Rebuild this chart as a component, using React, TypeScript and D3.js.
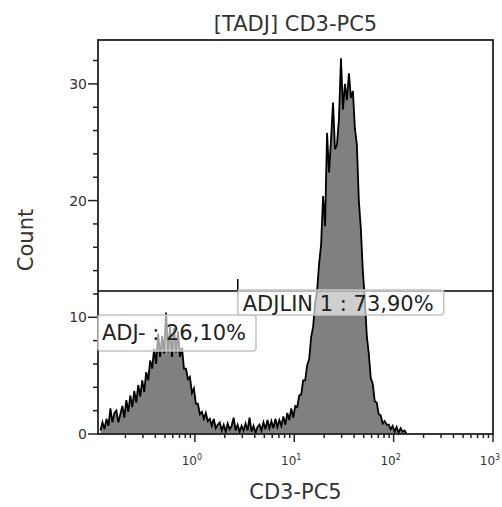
import React from 'react';
import * as d3 from 'd3';

const W = 502;
const H = 507;
const plot = { left: 98, top: 40, right: 493, bottom: 434 };

// histogram channels (log10 of the first channel's lower edge, channel width in decades)
const channelStart = -0.96;
const channelStep = 0.02;
const counts = [
  0.3, 1.0, 0.4, 1.3, 0.7, 2.2, 1.0, 1.8, 2.0, 1.0,
  1.7, 2.4, 1.4, 2.9, 1.9, 3.3, 2.3, 3.7, 2.7, 4.2,
  3.2, 4.6, 3.6, 5.3, 4.6, 6.3, 5.6, 7.3, 6.0, 8.6,
  6.6, 8.4, 6.9, 10.4, 7.0, 9.2, 6.6, 9.1, 7.0, 8.8,
  6.6, 7.4, 5.6, 5.6, 4.7, 4.9, 3.5, 3.9, 2.6, 2.6,
  1.7, 1.9, 1.3, 1.8, 1.1, 1.3, 0.7, 1.3, 0.5, 0.8,
  1.0, 0.3, 0.8, 0.2, 0.9, 0.4, 0.7, 1.4, 0.3, 0.8,
  0.2, 0.7, 0.3, 0.9, 0.3, 1.4, 0.2, 0.7, 0.1, 0.6,
  0.8, 0.3, 1.0, 0.4, 1.2, 0.5, 1.1, 0.5, 1.3, 0.6,
  1.2, 0.7, 1.5, 0.8, 1.8, 1.2, 2.2, 1.4, 2.4, 2.3,
  3.3, 3.4, 4.6, 4.6, 5.9, 6.4, 8.3, 9.2, 11.2, 12.3,
  14.6, 16.2, 20.4, 17.8, 25.8, 22.4, 25.2, 28.4, 24.4, 24.8,
  27.0, 32.2, 27.8, 30.0, 28.6, 30.9, 28.8, 29.4, 26.2, 24.8,
  20.0, 17.6, 14.0, 11.6, 8.4, 6.9, 4.8, 4.3, 2.8, 2.7,
  1.7, 1.6, 0.9, 1.1, 0.8, 0.8, 0.4, 0.7, 0.2, 0.6,
  0.1, 0.5, 0.2, 0.3, 0.0
];

const yTicks = [0, 10, 20, 30];
const yMinor = [2, 4, 6, 8, 12, 14, 16, 18, 22, 24, 26, 28, 32];
const xMajor = [1, 10, 100, 1000];
const xExponents = ['0', '1', '2', '3'];
const xMinorMult = [2, 3, 4, 5, 6, 7, 8, 9];
const xMinorDecades = [0.1, 1, 10, 100];

const gateLevel = 12.25;
const gateSplit = 2.7;
const regionNames = ['ADJ-', 'ADJLIN 1'];
const regionPercents = ['26,10%', '73,90%'];

const font = "'DejaVu Sans', sans-serif";
const textColor = '#333';

export default function App() {
  const x = d3.scaleLog().domain([Math.pow(10, -0.975), 1000]).range([plot.left, plot.right]);
  const y = d3.scaleLinear().domain([0, 33.76]).range([plot.bottom, plot.top]);

  const pts = counts.map((c, i) => ({ v: Math.pow(10, channelStart + channelStep * (i + 0.5)), c }));

  const area = d3.area<{ v: number; c: number }>()
    .x(d => x(d.v))
    .y0(y(0))
    .y1(d => y(d.c));
  const line = d3.line<{ v: number; c: number }>()
    .x(d => x(d.v))
    .y(d => y(d.c));

  const minorX: number[] = [];
  xMinorDecades.forEach(dec => xMinorMult.forEach(m => {
    const v = dec * m;
    if (v > x.domain()[0] && v < 1000) minorX.push(v);
  }));

  const gy = y(gateLevel);
  const gx = x(gateSplit);

  return (
    <svg width={W} height={H} style={{ position: 'absolute', left: 0, top: 0 }} fontFamily={font}>
      <rect width={W} height={H} fill="#fff" />
      <text x={(plot.left + plot.right) / 2} y={31} textAnchor="middle" fontSize={21} fill={textColor}>
        [TADJ] CD3-PC5
      </text>

      <path d={area(pts) || ''} fill="#808080" />
      <path d={line(pts) || ''} fill="none" stroke="#000" strokeWidth={1.8} strokeLinejoin="miter" />

      {/* frame */}
      <rect x={plot.left} y={plot.top} width={plot.right - plot.left} height={plot.bottom - plot.top}
        fill="none" stroke="#222" strokeWidth={1.8} />

      {/* y axis */}
      {yTicks.map(t => (
        <g key={'y' + t}>
          <line x1={plot.left - 10} x2={plot.left} y1={y(t)} y2={y(t)} stroke="#222" strokeWidth={1.5} />
          <text x={plot.left - 11} y={y(t) + 5} textAnchor="end" fontSize={14} fill={textColor}>{t}</text>
        </g>
      ))}
      {yMinor.map(t => (
        <line key={'ym' + t} x1={plot.left - 5} x2={plot.left} y1={y(t)} y2={y(t)} stroke="#222" strokeWidth={1.5} />
      ))}
      <text transform={`translate(33,${(plot.top + plot.bottom) / 2 + 3}) rotate(-90)`} textAnchor="middle"
        fontSize={21} fill={textColor}>Count</text>

      {/* x axis */}
      {xMajor.map((t, i) => (
        <g key={'x' + t}>
          <line x1={x(t)} x2={x(t)} y1={plot.bottom} y2={plot.bottom + 8} stroke="#222" strokeWidth={1.5} />
          <text x={x(t) - 3} y={465} textAnchor="middle" fontSize={12} fill={textColor}>
            10<tspan dy={-5} fontSize={8}>{xExponents[i]}</tspan>
          </text>
        </g>
      ))}
      {minorX.map(t => (
        <line key={'xm' + t} x1={x(t)} x2={x(t)} y1={plot.bottom} y2={plot.bottom + 4} stroke="#222" strokeWidth={1.5} />
      ))}
      <text x={(plot.left + plot.right) / 2} y={499} textAnchor="middle" fontSize={21} fill={textColor}>CD3-PC5</text>

      {/* gate */}
      <line x1={plot.left} x2={plot.right} y1={gy} y2={gy} stroke="#000" strokeWidth={1.5} />
      <line x1={gx} x2={gx} y1={gy - 12} y2={gy + 4} stroke="#000" strokeWidth={1.5} />

      {/* region labels */}
      <g>
        <rect x={plot.left} y={gy + 24} width={158} height={36} rx={3}
          fill="#fff" fillOpacity={0.62} stroke="#c4c4c4" strokeWidth={1.5} />
        <text x={plot.left + 4} y={gy + 49} fontSize={21} fill="#222">
          {regionNames[0]} : {regionPercents[0]}
        </text>
      </g>
      <g>
        <rect x={gx} y={gy - 1} width={206} height={25} rx={3}
          fill="#fff" fillOpacity={0.62} stroke="#c4c4c4" strokeWidth={1.5} />
        <text x={gx + 5} y={gy + 20} fontSize={21} fill="#222">
          {regionNames[1]} : {regionPercents[1]}
        </text>
      </g>
    </svg>
  );
}
